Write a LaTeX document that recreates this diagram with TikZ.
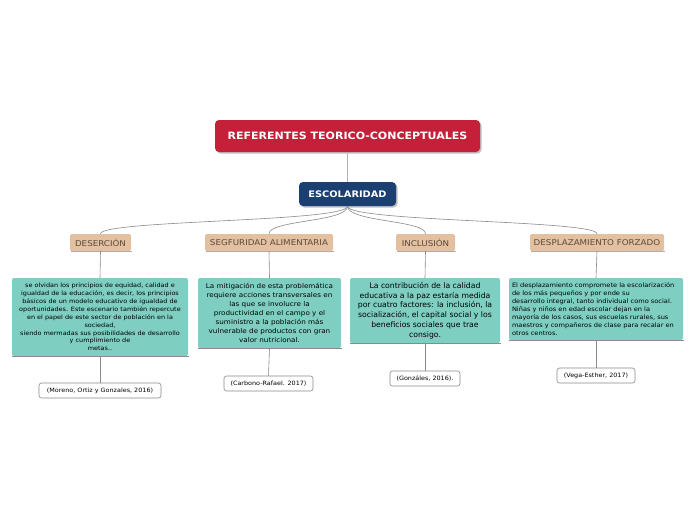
\documentclass[tikz,border=0pt]{standalone}
\usepackage{fontspec}
\setmainfont{DejaVu Sans}[FakeStretch=1.09]
\newfontfamily\plainfont{DejaVu Sans}
\definecolor{rootred}{HTML}{C5203A}
\definecolor{escblue}{HTML}{1C3F72}
\definecolor{topictan}{HTML}{E2C0A0}
\definecolor{topictxt}{HTML}{5C4B3C}
\definecolor{tealbox}{HTML}{7ECFC2}
\definecolor{linegray}{HTML}{8A8A8A}
\tikzset{
  rootbox/.style={fill=rootred, text=white, rounded corners=4pt, font={\fontsize{10.1}{12}\selectfont\bfseries}, inner sep=0pt},
  escbox/.style={fill=escblue, text=white, rounded corners=4pt, font={\fontsize{9}{11}\selectfont\bfseries}, inner sep=0pt},
  topicbox/.style={fill=topictan, text=topictxt, rounded corners=1.5pt, font={\fontsize{8}{9}\selectfont}, inner sep=0pt, minimum height=17pt},
  notebox/.style={fill=tealbox, text=black, rounded corners=2pt, inner sep=0pt, align=center},
  citebox/.style={fill=white, draw=linegray, line width=0.6pt, rounded corners=2.5pt, font={\fontsize{5.9}{7}\selectfont}, inner sep=0pt, minimum height=15pt},
  conn/.style={draw=linegray, line width=0.6pt},
  shadowline/.style={draw=linegray!70, line width=0.8pt},
}
\begin{document}
\begin{tikzpicture}[x=1pt,y=-1pt]
\fill[white] (0,0) rectangle (696,520);
\useasboundingbox (0,0) rectangle (696,520);

% shadows
\fill[black!25, rounded corners=4pt] (216.5,121.5) rectangle (481.5,153.5);
\fill[black!25, rounded corners=4pt] (300.5,183.5) rectangle (397.5,207.5);

\node[rootbox, minimum width=265pt, minimum height=32pt] (root) at (347.5,136) {REFERENTES TEORICO-CONCEPTUALES};
\node[escbox, minimum width=97pt, minimum height=24pt] (esc) at (347.5,194) {ESCOLARIDAD};

\draw[draw=black!30, line width=1.2pt] (root.south) -- (esc.north);

% topics
\node[topicbox, minimum width=61pt] (t1) at (100.5,242.5) {DESERCIÓN};
\node[topicbox, minimum width=128pt] (t2) at (269,242.5) {SEGFURIDAD ALIMENTARIA};
\node[topicbox, minimum width=59pt] (t3) at (425.5,242.5) {INCLUSIÓN};
\node[topicbox, minimum width=134pt] (t4) at (597,242.5) {DESPLAZAMIENTO FORZADO};
\foreach \t in {t1,t2,t3,t4}{
  \draw[shadowline] ([xshift=1pt,yshift=-0.6pt]\t.south west) -- ([xshift=1pt,yshift=-0.6pt]\t.south east);
}

\draw[conn] (esc.south) .. controls (347.5,222) and (100.5,220) .. (t1.north);
\draw[conn] (esc.south) .. controls (347.5,222) and (269,220) .. (t2.north);
\draw[conn] (esc.south) .. controls (347.5,222) and (425.5,220) .. (t3.north);
\draw[conn] (esc.south) .. controls (347.5,222) and (597,220) .. (t4.north);

% notes
\node[notebox, minimum width=176pt, minimum height=78pt, font={\fontsize{5.95}{7.9}\selectfont}] (b1) at (100,317) {se olvidan los principios de equidad, calidad e\\igualdad de la educación, es decir, los principios\\básicos de un modelo educativo de igualdad de\\oportunidades. Este escenario también repercute\\en el papel de este sector de población en la\\sociedad,\\siendo mermadas sus posibilidades de desarrollo\\y cumplimiento de\\metas..};
\node[notebox, minimum width=143pt, minimum height=70pt, font={\fontsize{6.6}{9}\selectfont}] (b2) at (269.5,313) {La mitigación de esta problemática\\requiere acciones transversales en\\las que se involucre la\\productividad en el campo y el\\suministro a la población más\\vulnerable de productos con gran\\valor nutricional.};
\node[notebox, minimum width=150pt, minimum height=65pt, font={\plainfont\fontsize{7.7}{9.7}\selectfont}] (b3) at (425,310.5) {La contribución de la calidad\\educativa a la paz estaría medida\\por cuatro factores: la inclusión, la\\socialización, el capital social y los\\beneficios sociales que trae\\consigo.};
\node[notebox, minimum width=174pt, minimum height=62pt, text width=168pt, align=left, font={\fontsize{6.1}{8}\selectfont}] (b4) at (596,309) {El desplazamiento compromete la escolarización\\de los más pequeños y por ende su\\desarrollo integral, tanto individual como social.\\Niñas y niños en edad escolar dejan en la\\mayoría de los casos, sus escuelas rurales, sus\\maestros y compañeros de clase para recalar en\\otros centros.};
\foreach \b in {b1,b2,b3,b4}{
  \draw[conn] ([yshift=-0.4pt]\b.south west) -- ([xshift=1pt,yshift=-0.4pt]\b.south east);
}

\draw[conn] (t1.south) -- (b1.north);
\draw[conn] (t2.south) -- (b2.north);
\draw[conn] (t3.south) -- (b3.north);
\draw[conn] (t4.south) -- (b4.north);

% citations
\node[citebox, minimum width=122pt] (c1) at (100,390.5) {(Moreno, Ortiz y Gonzales, 2016)};
\node[citebox, minimum width=89pt] (c2) at (268.5,383.5) {(Carbono-Rafael. 2017)};
\node[citebox, minimum width=70pt] (c3) at (425,378.5) {(Gonzáles, 2016).};
\node[citebox, minimum width=78pt] (c4) at (596,375.5) {(Vega-Esther, 2017)};

\draw[conn] ([yshift=-0.4pt]b1.south) -- (c1.north);
\draw[conn] ([yshift=-0.4pt]b2.south) -- (c2.north);
\draw[conn] ([yshift=-0.4pt]b3.south) -- (c3.north);
\draw[conn] ([yshift=-0.4pt]b4.south) -- (c4.north);
\end{tikzpicture}
\end{document}
